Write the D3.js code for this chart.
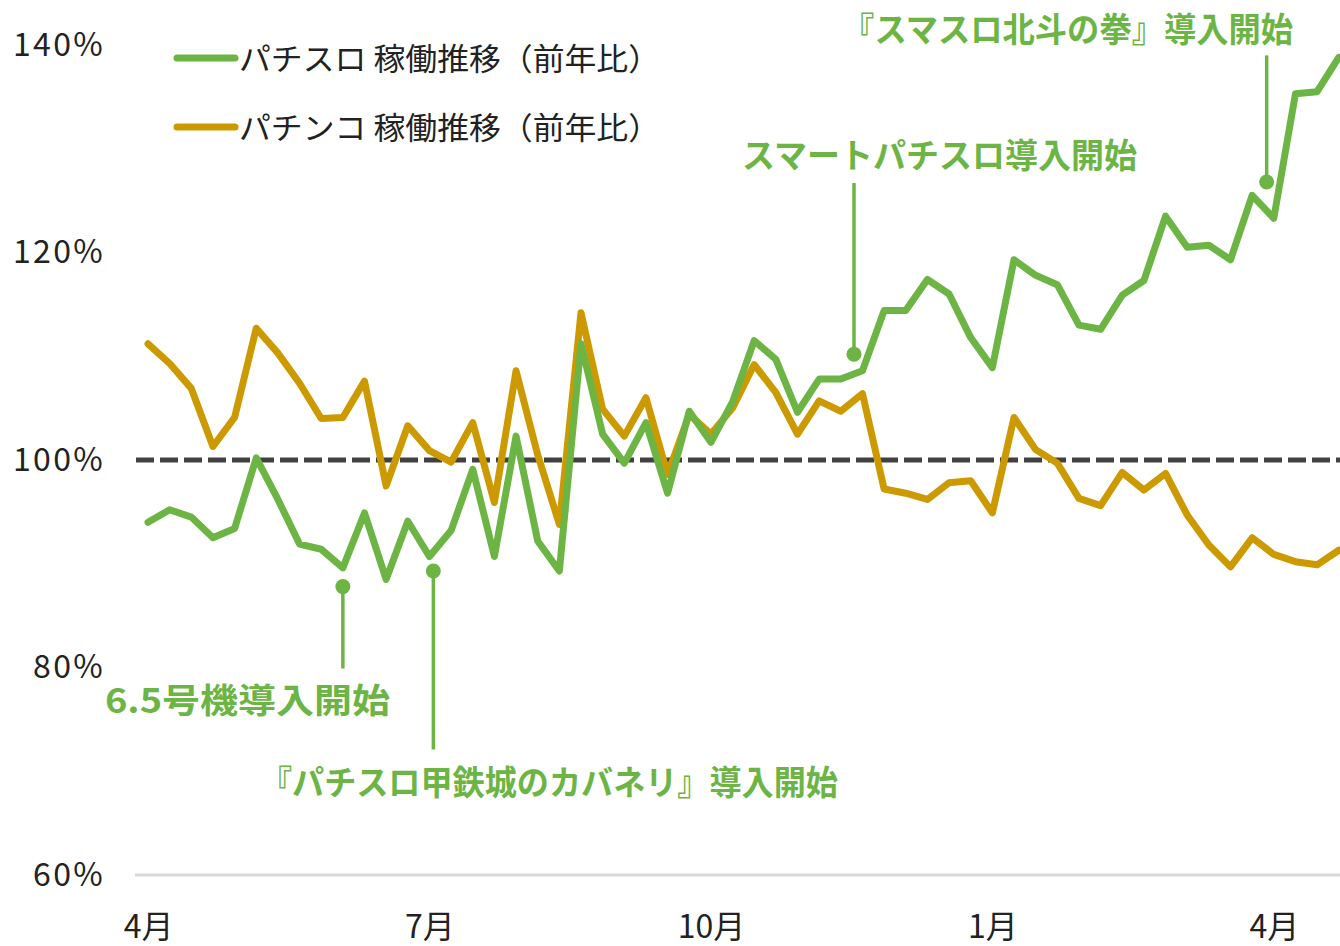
<!DOCTYPE html>
<html>
<head>
<meta charset="utf-8">
<script src="https://cdn.jsdelivr.net/npm/d3@7"></script>
<style>
  body { margin:0; background:#fff; }
  svg { display:block; font-family:"Noto Sans CJK JP","Noto Sans",sans-serif; }
</style>
</head>
<body>
<div id="chart"></div>
<script>
// weekly year-on-year operation rate (%), week 0 = April
const pachislo = [94.0,95.2,94.5,92.5,93.4,100.2,96.2,91.9,91.4,89.6,94.9,88.5,94.1,90.7,
  93.2,99.1,90.7,102.3,92.2,89.3,111.2,102.5,99.7,103.6,96.8,104.7,101.7,105.6,
  111.5,109.7,104.6,107.8,107.8,108.6,114.4,114.4,117.4,116.0,111.8,108.9,119.3,117.8,
  116.9,113.0,112.6,115.9,117.3,123.5,120.5,120.7,119.3,125.5,123.3,135.3,135.5,138.8];
const pachinko = [111.2,109.3,106.9,101.3,104.1,112.7,110.3,107.4,104.0,104.1,107.6,97.5,103.3,100.9,
  99.8,103.6,95.9,108.6,100.5,93.8,114.2,104.9,102.3,106.0,98.6,104.4,102.5,105.0,
  109.2,106.5,102.5,105.7,104.7,106.4,97.2,96.8,96.2,97.8,98.0,94.9,104.1,101.0,
  99.7,96.3,95.6,98.8,97.1,98.7,94.7,91.8,89.7,92.5,90.9,90.2,89.9,91.3];
const monthWeeks = [0,13,26,39,52];
const monthLabels = ["4月","7月","10月","1月","4月"];
const yTicks = [60,80,100,120,140];
const seriesNames = ["パチスロ 稼働推移（前年比）","パチンコ 稼働推移（前年比）"];
const colors = ["#6cb545","#cc9a00"];

// annotations: dot at (week, value), stem to value endVal, label at (textWeek, textVal)
const notes = [
  {label:"6.5号機導入開始", week:9, val:87.8, endVal:79.9, textWeek:-1.99, textVal:75.6, len:285},
  {label:"『パチスロ甲鉄城のカバネリ』導入開始", week:13.18, val:89.3, endVal:72.1, textWeek:5.17, textVal:67.7, len:578},
  {label:"スマートパチスロ導入開始", week:32.61, val:110.2, endVal:126.7, textWeek:27.44, textVal:128.1, len:395},
  {label:"『スマスロ北斗の拳』導入開始", week:51.67, val:126.8, endVal:139.0, textWeek:32.06, textVal:140.3, len:451}
];

let width = 1340, height = 946;

let x = d3.scaleLinear().domain([0,55]).range([148,148+55*21.65]);
let y = d3.scaleLinear().domain([60,140]).range([875,45]);

let svg = d3.select("#chart").append("svg")
  .attr("width",width).attr("height",height);

// baseline at 60%
svg.append("line")
  .attr("x1",135).attr("x2",width)
  .attr("y1",y(60)).attr("y2",y(60))
  .attr("stroke","#d9d9d9").attr("stroke-width",3);

// y axis labels
let yAxis = d3.axisLeft(y).tickValues(yTicks).tickFormat(d=>d+"%").tickSize(0).tickPadding(0);
let yG = svg.append("g").attr("transform","translate(105,0)").call(yAxis);
yG.select(".domain").remove();
yG.selectAll("text").attr("font-size",32).attr("fill","#222")
  .attr("letter-spacing","2.3px")
  .attr("font-family","'Noto Sans CJK JP',sans-serif");

// x axis labels
let xAxis = d3.axisBottom(x).tickValues(monthWeeks).tickFormat((d,i)=>monthLabels[i]).tickSize(0).tickPadding(0);
let xG = svg.append("g").attr("transform","translate(0,0)").call(xAxis);
xG.select(".domain").remove();
xG.selectAll("text").attr("font-size",32).attr("fill","#222")
  .attr("y",938).attr("dy",0)
  .attr("font-family","'Noto Sans CJK JP',sans-serif");

// 100% dashed line
svg.append("line")
  .attr("x1",136).attr("x2",width)
  .attr("y1",y(100)).attr("y2",y(100))
  .attr("stroke","#404040").attr("stroke-width",5)
  .attr("stroke-dasharray","18,6");

let line = d3.line().x((d,i)=>x(i)).y(d=>y(d));

[pachinko, pachislo].forEach((s,k)=>{
  svg.append("path").datum(s)
    .attr("d",line)
    .attr("fill","none")
    .attr("stroke",k==0 ? colors[1] : colors[0])
    .attr("stroke-width",7)
    .attr("stroke-linejoin","round")
    .attr("stroke-linecap","round");
});

// legend
seriesNames.forEach((name,i)=>{
  let ly = 58 + i*69;
  svg.append("line").attr("x1",177).attr("x2",235).attr("y1",ly).attr("y2",ly)
    .attr("stroke",colors[i]).attr("stroke-width",7).attr("stroke-linecap","round");
  svg.append("text").attr("x",239).attr("y",ly+12)
    .attr("font-size",31).attr("fill","#222")
    .attr("textLength",421).attr("lengthAdjust","spacingAndGlyphs")
    .text(name);
});

// annotations
let ann = svg.selectAll(".note").data(notes).enter().append("g").attr("class","note");
ann.append("line")
  .attr("x1",d=>x(d.week)).attr("x2",d=>x(d.week))
  .attr("y1",d=>y(d.val)).attr("y2",d=>y(d.endVal))
  .attr("stroke",colors[0]).attr("stroke-width",3.5);
ann.append("circle")
  .attr("cx",d=>x(d.week)).attr("cy",d=>y(d.val)).attr("r",7.5)
  .attr("fill",colors[0]);
ann.append("text")
  .attr("x",d=>x(d.textWeek)).attr("y",d=>y(d.textVal))
  .attr("font-size",34).attr("font-weight","bold").attr("fill",colors[0])
  .attr("textLength",d=>d.len).attr("lengthAdjust","spacingAndGlyphs")
  .text(d=>d.label);
</script>
</body>
</html>
